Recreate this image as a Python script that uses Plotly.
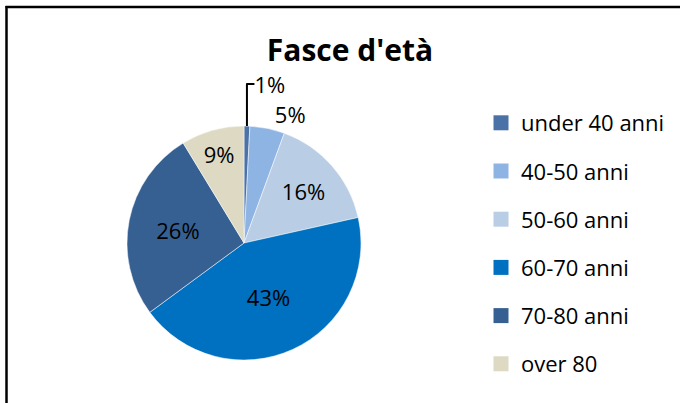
import plotly.graph_objects as go

categories = ["under 40 anni", "40-50 anni", "50-60 anni", "60-70 anni", "70-80 anni", "over 80"]
values = [0.8, 4.8, 15.9, 43.4, 26.4, 8.7]
colors = ["#4A72A6", "#8EB4E3", "#B9CDE5", "#0070C0", "#376092", "#DDD9C3"]
title_text = "Fasce d'età"

W, H = 680, 403
FONT = "Open Sans"

fig = go.Figure()

fig.add_trace(go.Pie(
    labels=categories,
    values=values,
    sort=False,
    direction="clockwise",
    rotation=0,
    marker=dict(colors=colors, line=dict(color="white", width=0.5)),
    texttemplate="%{percent:.0%}",
    textposition=["outside", "outside", "inside", "inside", "inside", "inside"],
    insidetextorientation="horizontal",
    textfont=dict(family=FONT, size=22, color="black"),
    outsidetextfont=dict(family=FONT, size=22, color="black"),
    insidetextfont=dict(family=FONT, size=22, color="black"),
    domain=dict(x=[127 / W, 361 / W], y=[1 - 360 / H, 1 - 126 / H]),
    showlegend=False,
    hoverinfo="label+percent",
))

for cat, col in zip(categories, colors):
    fig.add_trace(go.Scatter(
        x=[None], y=[None], mode="markers", name=cat,
        marker=dict(symbol="square", size=15, color=col),
        legendgroup=cat, showlegend=True,
    ))

fig.update_layout(
    width=W, height=H,
    margin=dict(l=0, r=0, t=0, b=0),
    paper_bgcolor="white", plot_bgcolor="white",
    xaxis=dict(visible=False), yaxis=dict(visible=False),
    title=dict(text="<b>" + title_text + "</b>", x=350 / W, xanchor="center",
               y=1 - 50 / H, yanchor="middle",
               font=dict(family=FONT, size=30, color="black")),
    legend=dict(x=481 / W, y=1 - 102 / H, xanchor="left", yanchor="top",
                font=dict(family=FONT, size=22, color="black"),
                tracegroupgap=16.6, itemsizing="trace",
                bgcolor="rgba(0,0,0,0)"),
    shapes=[
        dict(type="line", xref="paper", yref="paper", x0=5.5 / W, x1=1, y0=1 - 7 / H, y1=1 - 7 / H,
             line=dict(color="black", width=2.5)),
        dict(type="line", xref="paper", yref="paper", x0=6.5 / W, x1=6.5 / W, y0=0, y1=1 - 6 / H,
             line=dict(color="black", width=2.5)),
    ],
)

fig.write_html("out.html", config={"displayModeBar": False},
               post_script="document.body.style.margin='0';document.body.style.overflow='hidden';")
